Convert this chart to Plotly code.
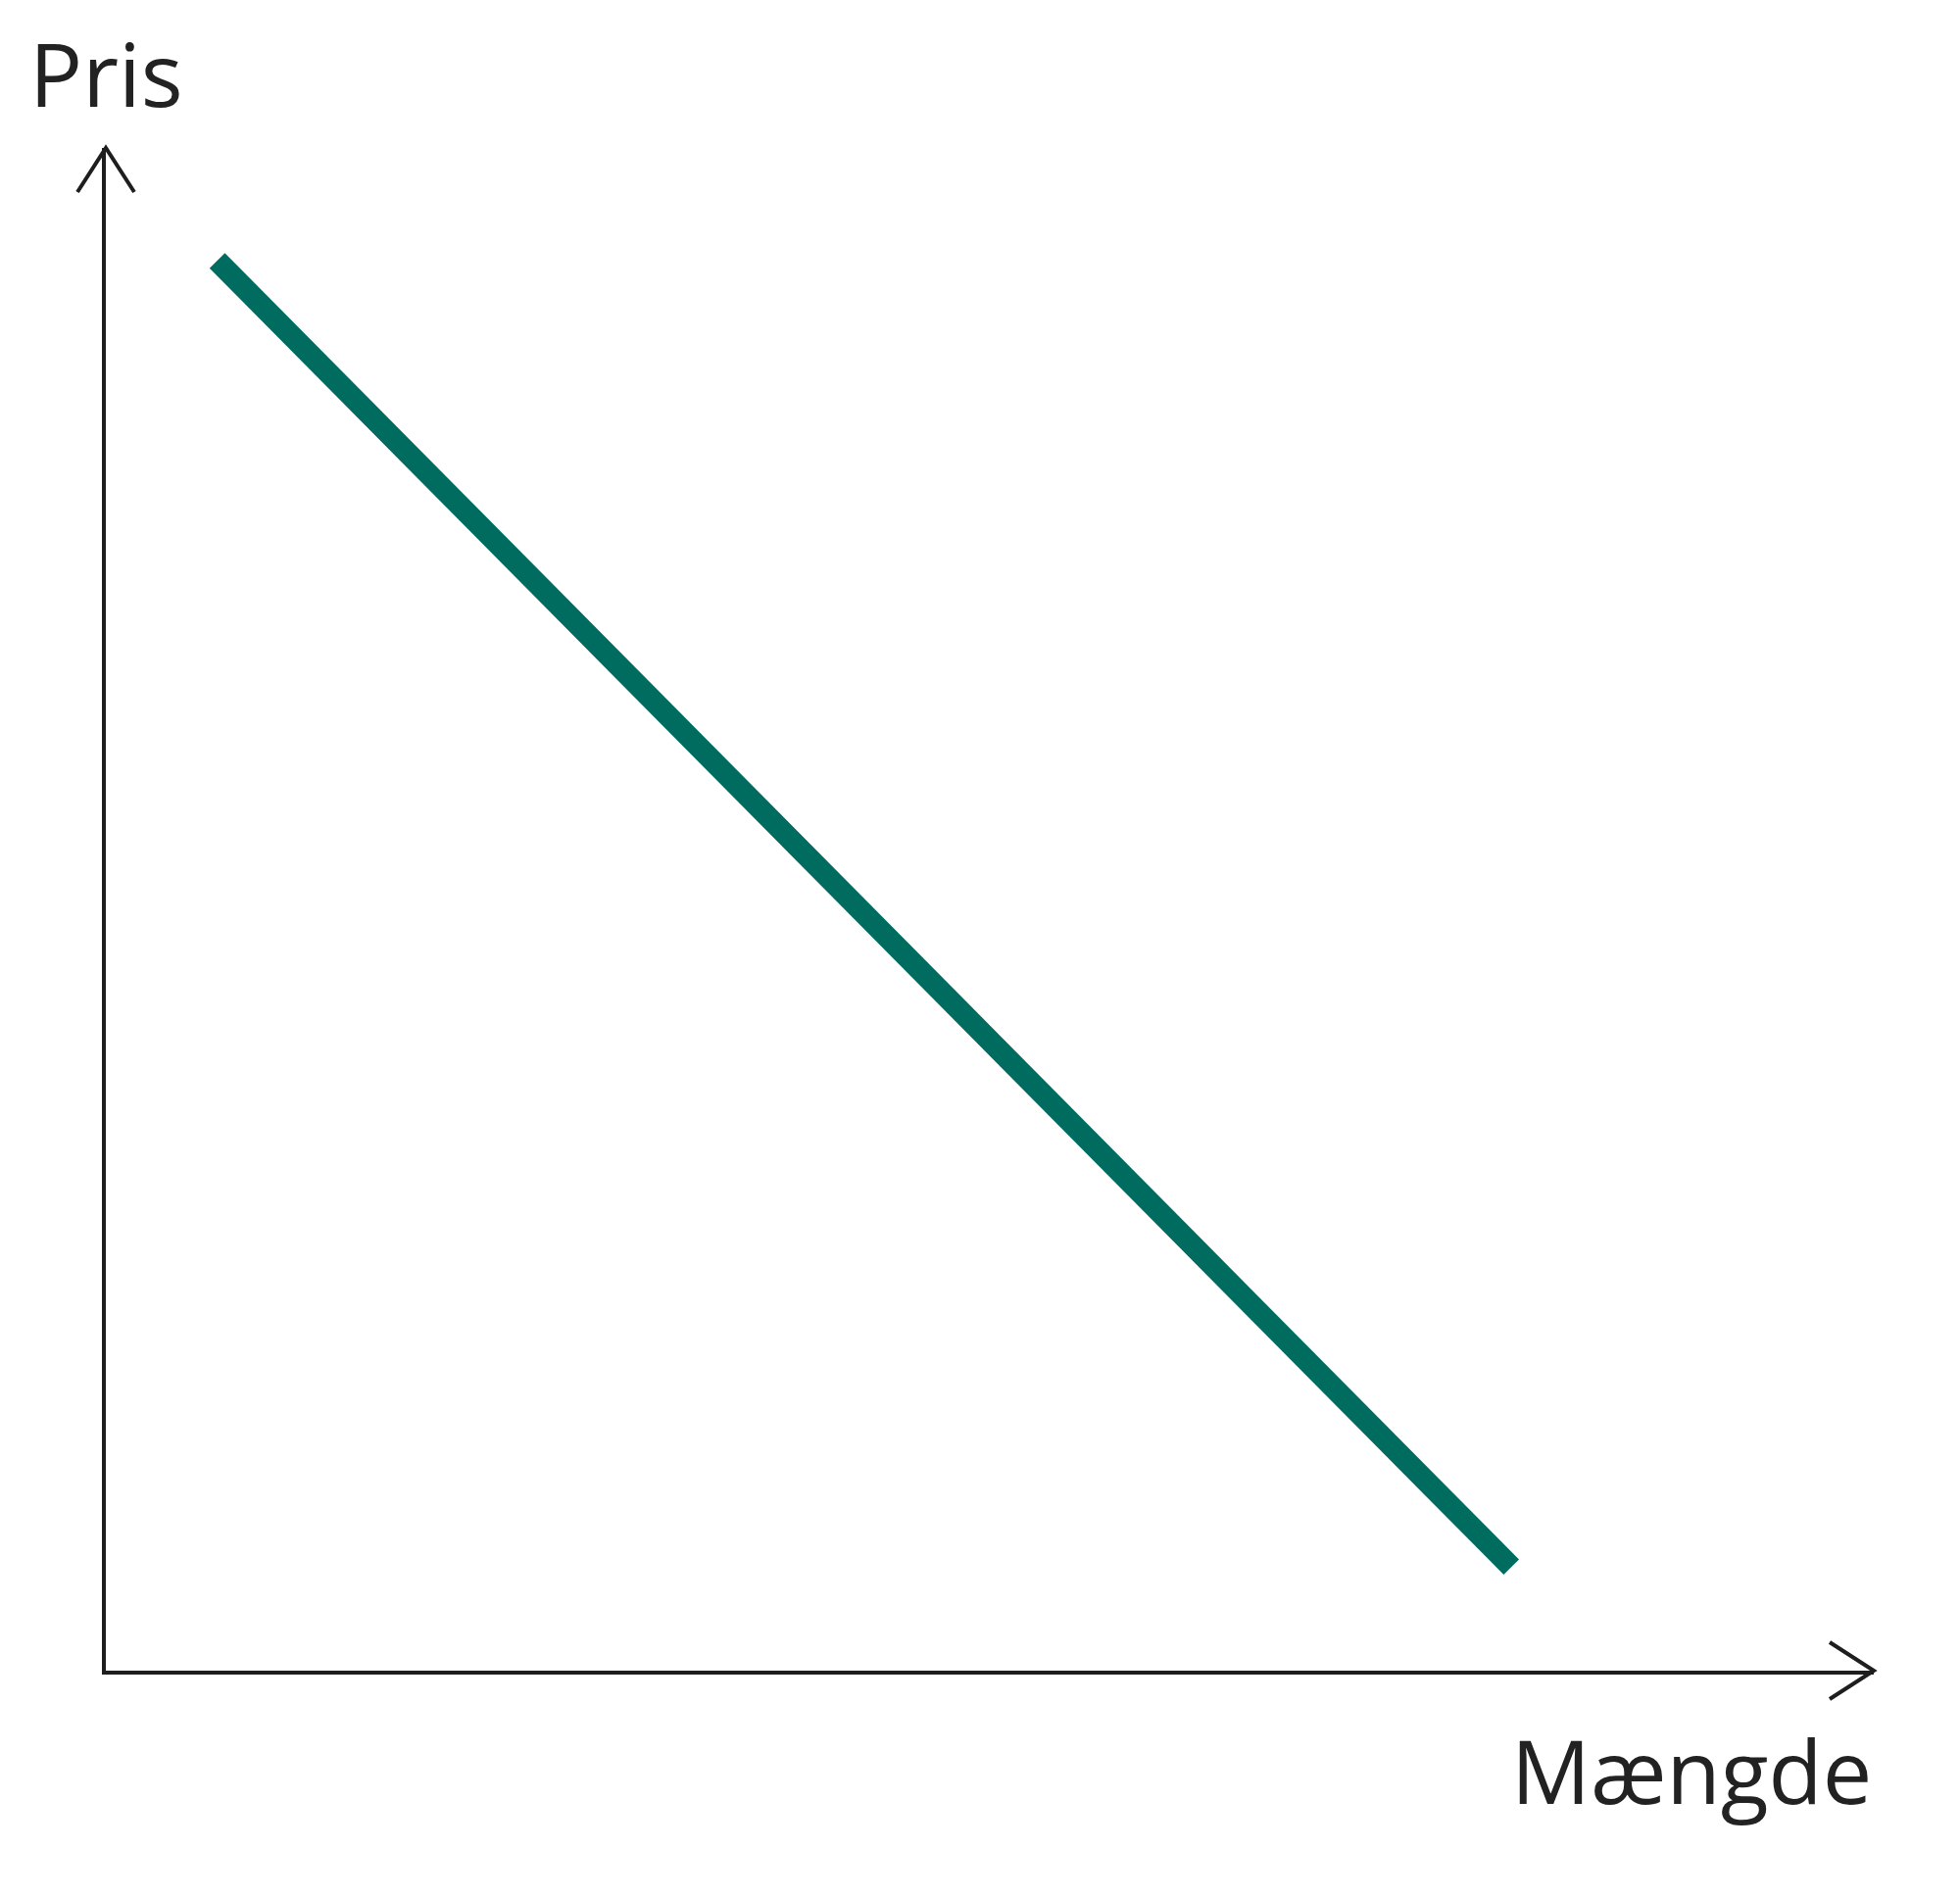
import plotly.graph_objects as go

quantity = [0.63, 7.95]
price = [9.26, 0.68]
x_label = "Mængde"
y_label = "Pris"

fig = go.Figure(go.Scatter(x=quantity, y=price, mode="lines",
                           line=dict(color="#006c60", width=22), hoverinfo="skip"))
ax = "#1e1e1e"
fig.update_layout(
    width=2000, height=1936, paper_bgcolor="white", plot_bgcolor="white",
    margin=dict(l=100, r=96, t=143, b=239), showlegend=False,
    xaxis=dict(range=[0, 10], showgrid=False, zeroline=False, showticklabels=False,
               ticks="", showline=True, linecolor=ax, linewidth=4),
    yaxis=dict(range=[0, 10], showgrid=False, zeroline=False, showticklabels=False,
               ticks="", showline=True, linecolor=ax, linewidth=4),
    shapes=[
        dict(type="path", xref="paper", yref="paper", xsizemode="pixel", ysizemode="pixel",
             xanchor=1, yanchor=0, path="M -45,29 L 0,0 L -45,-29",
             line=dict(color=ax, width=4)),
        dict(type="path", xref="paper", yref="paper", xsizemode="pixel", ysizemode="pixel",
             xanchor=0, yanchor=1, path="M -29,-45 L 0,0 L 29,-45",
             line=dict(color=ax, width=4)),
    ],
    annotations=[
        dict(text=y_label, xref="paper", yref="paper", x=0, y=1, xshift=-80, yshift=14,
             xanchor="left", yanchor="bottom", showarrow=False,
             font=dict(family="Open Sans", size=90, color="#222")),
        dict(text=x_label, xref="paper", yref="paper", x=1, y=0, xshift=0, yshift=-38,
             xanchor="right", yanchor="top", showarrow=False,
             font=dict(family="Open Sans", size=90, color="#222")),
    ],
)
fig.write_html("out.html")
